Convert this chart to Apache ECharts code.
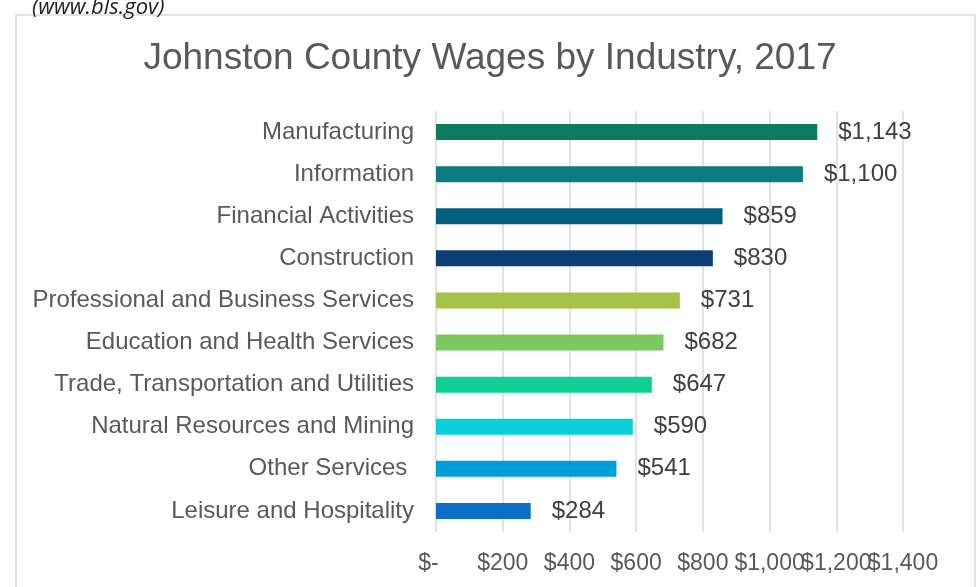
<!DOCTYPE html>
<html>
<head>
<meta charset="utf-8">
<title>Johnston County Wages by Industry, 2017</title>
<script src="https://cdn.jsdelivr.net/npm/echarts@6/dist/echarts.min.js"></script>
<style>
    html, body { margin: 0; padding: 0; background: #fff; }
    #chart { width: 980px; height: 587px; }
</style>
</head>
<body>
<div id="chart"></div>
<script>
// industries, top to bottom
var industries = [
    'Manufacturing',
    'Information',
    'Financial Activities',
    'Construction',
    'Professional and Business Services',
    'Education and Health Services',
    'Trade, Transportation and Utilities',
    'Natural Resources and Mining',
    'Other Services ',
    'Leisure and Hospitality'
];

// average weekly wage, $
var wages = [1143, 1100, 859, 830, 731, 682, 647, 590, 541, 284];

// x axis ticks
var tickValues = [0, 200, 400, 600, 800, 1000, 1200, 1400];

var barColors = [
    '#0d7c5e', '#0a7c80', '#045e80', '#0c3f75', '#a6c249',
    '#7cc962', '#10cf96', '#0acfd9', '#009ed8', '#0d6ec6'
];

function money(v) {
    if (v === 0) return '$-';
    return '$' + v.toLocaleString('en-US');
}

/**
 * x axis -- the labels run into each other in the original,
 * so every other one sits on a twin axis to keep them all visible
 */
function makeXAxis(odd) {
    return {
        type: 'value',
        position: 'bottom',
        offset: 0,
        min: 0,
        max: 1400,
        interval: 200,
        axisLine: { show: false },
        axisTick: { show: false },
        splitLine: {
            show: !odd,
            lineStyle: { color: '#d9d9d9', width: 1.5 }
        },
        axisLabel: {
            color: '#595959',
            fontSize: 23,
            margin: 20,
            showMinLabel: true,
            showMaxLabel: true,
            formatter: function (v) {
                var i = tickValues.indexOf(v);
                if (i < 0 || (i % 2 === 1) !== odd) return '';
                if (v === 0) return '{z|$-}';
                return money(v);
            },
            rich: {
                z: { fontSize: 23, color: '#595959', padding: [0, 15, 0, 0] }
            }
        }
    };
}

var myChart = echarts.init(document.getElementById('chart'));

var option = {
    backgroundColor: '#fff',
    textStyle: {
        fontFamily: '"Liberation Sans", Arial, sans-serif'
    },
    title: {
        text: 'Johnston County Wages by Industry, 2017',
        left: 'center',
        top: 35,
        textStyle: {
            color: '#595959',
            fontSize: 37,
            fontWeight: 'normal'
        }
    },
    graphic: [{
        type: 'rect',
        shape: { x: 16, y: 15, width: 959, height: 600 },
        style: { fill: null, stroke: '#d9d9d9', lineWidth: 1.5 }
    }, {
        type: 'text',
        left: 32,
        top: -3,
        style: {
            text: '(www.bls.gov)',
            fill: '#222',
            font: 'italic 22px "Open Sans", sans-serif'
        }
    }],
    grid: {
        left: 436,
        right: 77,
        top: 111,
        bottom: 55
    },
    xAxis: [makeXAxis(false), makeXAxis(true)],
    yAxis: {
        type: 'category',
        inverse: true,
        data: industries,
        axisLine: { show: false },
        axisTick: { show: false },
        axisLabel: {
            color: '#595959',
            fontSize: 24,
            margin: 22
        }
    },
    series: [{
        name: 'Wages',
        type: 'bar',
        barWidth: 16,
        data: wages,
        itemStyle: {
            color: function (p) {
                return barColors[p.dataIndex];
            }
        },
        label: {
            show: true,
            position: 'right',
            distance: 21,
            color: '#404040',
            fontSize: 24,
            formatter: function (p) {
                return money(p.value);
            }
        }
    }]
};
myChart.setOption(option);
</script>
</body>
</html>
